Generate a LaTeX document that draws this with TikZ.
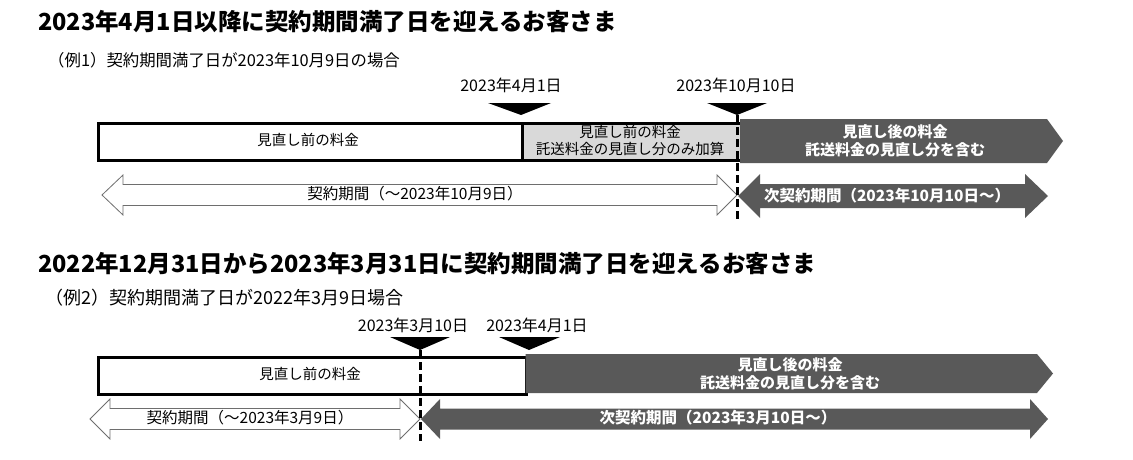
\documentclass[tikz,border=0pt]{standalone}
\usepackage{fontspec}
\setmainfont{Noto Sans CJK JP}
\usetikzlibrary{positioning}
\definecolor{darkColor}{RGB}{89,89,89}
\definecolor{grayColor}{RGB}{217,217,217}
\definecolor{edgeColor}{RGB}{110,110,110}

\begin{document}
\begin{tikzpicture}[
    x=1pt, y=-1pt,
    title/.style={anchor=west, inner sep=0, font=\fontsize{23.5}{28}\selectfont\bfseries},
    subtitle/.style={anchor=west, inner sep=0, font=\fontsize{16.4}{19}\selectfont},
    datelabel/.style={inner sep=0, font=\fontsize{16}{19}\selectfont},
    feebox/.style={rectangle, draw, line width=3pt, inner sep=0, anchor=north west, minimum height=37},
    feetext/.style={align=center, inner sep=0, font=\fontsize{14.5}{17}\selectfont},
    darktext/.style={text=white, align=center, inner sep=0, font=\fontsize{15}{18}\selectfont\bfseries},
    periodtext/.style={inner sep=0, font=\fontsize{15.5}{18}\selectfont},
    marker/.style={fill=black},
    cutline/.style={line width=3pt, dash pattern=on 8pt off 4pt},
    whitearrow/.style={draw=edgeColor, fill=white, line width=0.8pt},
    darkarrow/.style={fill=darkColor}
]
    \useasboundingbox (0,0) rectangle (1133,460);

    % Case 1
    \node[title] (title1) at (38,22) {2023年4月1日以降に契約期間満了日を迎えるお客さま};
    \node[subtitle] (sub1) at (48,60) {（例1）契約期間満了日が2023年10月9日の場合};
    \node[datelabel] (date1a) at (511,85) {2023年4月1日};
    \node[datelabel] (date1b) at (736,85) {2023年10月10日};

    \node[feebox, minimum width=424] (before1) at (96.5,121.5) {};
    \node[feebox, fill=grayColor, minimum width=219] (mid1) at (520.5,121.5) {};
    \fill[darkarrow] (740,119) -- (1047,119) -- (1063,141) -- (1047,163) -- (740,163) -- cycle;
    \node[feetext] (beforetxt1) at (308,140) {見直し前の料金};
    \node[feetext] (midtxt1) at (630,140) {見直し前の料金\\託送料金の見直し分のみ加算};
    \node[darktext] (aftertxt1) at (895,141) {見直し後の料金\\託送料金の見直し分を含む};

    \coordinate (cut1) at (737,115);
    \coordinate (cut1end) at (737,220);
    \fill[marker] (488,103) -- (551,103) -- (521,115) -- cycle;
    \fill[marker] (707,103) -- (767,103) -- (cut1) -- cycle;

    \draw[whitearrow] (102,195) -- (123,175) -- (123,184.5) -- (717,184.5) -- (717,175)
        -- (737,195) -- (717,215) -- (717,205.5) -- (123,205.5) -- (123,215) -- cycle;
    \fill[darkarrow] (738,196) -- (760,174) -- (760,184) -- (1025,184) -- (1025,174)
        -- (1048,196) -- (1025,218) -- (1025,208) -- (760,208) -- (760,218) -- cycle;
    \node[periodtext] (term1) at (415,194) {契約期間（～2023年10月9日）};
    \node[periodtext, text=white, font=\fontsize{15.5}{18}\selectfont\bfseries] (next1) at (887,196) {次契約期間（2023年10月10日～）};

    \draw[cutline] (cut1) -- (cut1end);

    % Case 2
    \node[title] (title2) at (38,264) {2022年12月31日から2023年3月31日に契約期間満了日を迎えるお客さま};
    \node[subtitle, font=\fontsize{18}{21}\selectfont] (sub2) at (45,298) {（例2）契約期間満了日が2022年3月9日場合};
    \node[datelabel] (date2a) at (413,325) {2023年3月10日};
    \node[datelabel] (date2b) at (537,325) {2023年4月1日};

    \node[feebox, minimum width=428] (before2) at (96.5,355.5) {};
    \fill[darkarrow] (525.5,354) -- (1037,354) -- (1053,373.5) -- (1037,393) -- (525.5,393) -- cycle;
    \node[feetext] (beforetxt2) at (310,373.5) {見直し前の料金};
    \node[darktext] (aftertxt2) at (790,373.5) {見直し後の料金\\託送料金の見直し分を含む};

    \coordinate (cut2) at (420,350);
    \coordinate (cut2end) at (420,441);
    \fill[marker] (390,337) -- (450,337) -- (cut2) -- cycle;
    \fill[marker] (499,337) -- (560,337) -- (529,350) -- cycle;

    \draw[whitearrow] (90,419) -- (110,399) -- (110,408.5) -- (400,408.5) -- (400,399)
        -- (420,419) -- (400,439) -- (400,429.5) -- (110,429.5) -- (110,439) -- cycle;
    \fill[darkarrow] (421,419) -- (440,399) -- (440,408.5) -- (1030,408.5) -- (1030,399)
        -- (1048,419) -- (1030,439) -- (1030,429.5) -- (440,429.5) -- (440,439) -- cycle;
    \node[periodtext] (term2) at (250,418) {契約期間（～2023年3月9日）};
    \node[periodtext, text=white, font=\fontsize{15.5}{18}\selectfont\bfseries] (next2) at (718,418) {次契約期間（2023年3月10日～）};

    \draw[cutline] (cut2) -- (cut2end);
\end{tikzpicture}
\end{document}
